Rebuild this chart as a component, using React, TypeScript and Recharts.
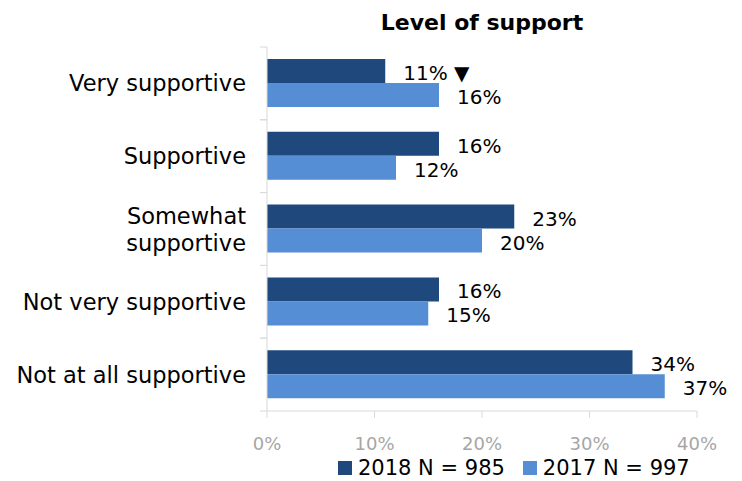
import * as React from "react";
import { Bar, BarChart, LabelList, XAxis, YAxis } from "recharts";

const categories = [
  "Very supportive",
  "Supportive",
  "Somewhat\nsupportive",
  "Not very supportive",
  "Not at all supportive",
];
const values2018 = [11, 16, 23, 16, 34];
const values2017 = [16, 12, 20, 15, 37];
const marks2018 = ["▼", "", "", "", ""];
const xTicks = [0, 10, 20, 30, 40];
const seriesNames = ["2018 N = 985", "2017 N = 997"];

const COLORS = ["#1F497D", "#558ED5"];
const FONT = '"DejaVu Sans", sans-serif';
const AXIS_GRAY = "#d9d9d9";

const data = categories.map((name, i) => ({
  name,
  y2018: values2018[i],
  y2017: values2017[i],
  mark: marks2018[i],
}));

const CategoryTick = (props: any) => {
  const { x, y, payload } = props;
  const half = payload?.offset ?? 36.4;
  const lines = String(payload.value).split("\n");
  const lh = 27;
  const start = y - ((lines.length - 1) * lh) / 2;
  return (
    <g>
      <line x1={x - 7} x2={x} y1={y - half} y2={y - half} stroke={AXIS_GRAY} />
      <line x1={x - 7} x2={x} y1={y + half} y2={y + half} stroke={AXIS_GRAY} />
      {lines.map((l, i) => (
        <text
          key={i}
          x={x - 21}
          y={start + i * lh}
          textAnchor="end"
          dominantBaseline="central"
          fontSize={22.5}
          fontFamily={FONT}
          fill="#000"
        >
          {l}
        </text>
      ))}
    </g>
  );
};

const makeLabel = (withMark: boolean) => (props: any) => {
  const { x, y, width, height, value, index } = props;
  const mark = withMark ? marks2018[index] : "";
  return (
    <text
      x={x + width + 18}
      y={y + height / 2 + 2}
      dominantBaseline="central"
      fontSize={20}
      fontFamily={FONT}
      fill="#000"
    >
      {`${value}%${mark ? " " + mark : ""}`}
    </text>
  );
};

export default function App() {
  return (
    <div
      style={{
        position: "absolute",
        left: 0,
        top: 0,
        width: 742,
        height: 481,
        background: "#fff",
        fontFamily: FONT,
      }}
    >
      <div
        style={{
          position: "absolute",
          left: 282,
          width: 400,
          top: 9,
          textAlign: "center",
          fontWeight: "bold",
          fontSize: 22,
          lineHeight: "28px",
          color: "#000",
        }}
      >
        Level of support
      </div>
      <BarChart
        width={742}
        height={481}
        data={data}
        layout="vertical"
        margin={{ top: 47, right: 45, bottom: 40, left: 0 }}
        barSize={24}
        barGap={0}
      >
        <XAxis
          type="number"
          domain={[0, 40]}
          ticks={xTicks}
          tickFormatter={(v: number) => `${v}%`}
          tick={{ fill: "#a6a6a6", fontSize: 18, fontFamily: FONT }}
          axisLine={{ stroke: AXIS_GRAY }}
          tickLine={{ stroke: AXIS_GRAY }}
          tickSize={7}
          tickMargin={19}
          interval={0}
        />
        <YAxis
          type="category"
          dataKey="name"
          width={267}
          axisLine={{ stroke: AXIS_GRAY }}
          tickLine={false}
          tickSize={0}
          tickMargin={0}
          tick={<CategoryTick />}
          interval={0}
        />
        <Bar dataKey="y2018" fill={COLORS[0]} isAnimationActive={false}>
          <LabelList dataKey="y2018" content={makeLabel(true)} />
        </Bar>
        <Bar dataKey="y2017" fill={COLORS[1]} isAnimationActive={false}>
          <LabelList dataKey="y2017" content={makeLabel(false)} />
        </Bar>
      </BarChart>
      <div
        style={{
          position: "absolute",
          left: 338,
          top: 456,
          display: "flex",
          alignItems: "center",
          fontSize: 21,
          color: "#000",
          whiteSpace: "nowrap",
        }}
      >
        {seriesNames.map((n, i) => (
          <div
            key={n}
            style={{
              display: "flex",
              alignItems: "center",
              marginRight: i === 0 ? 18 : 0,
            }}
          >
            <span
              style={{
                display: "inline-block",
                width: 14,
                height: 14,
                background: COLORS[i],
                marginRight: 6,
              }}
            />
            <span>{n}</span>
          </div>
        ))}
      </div>
    </div>
  );
}
